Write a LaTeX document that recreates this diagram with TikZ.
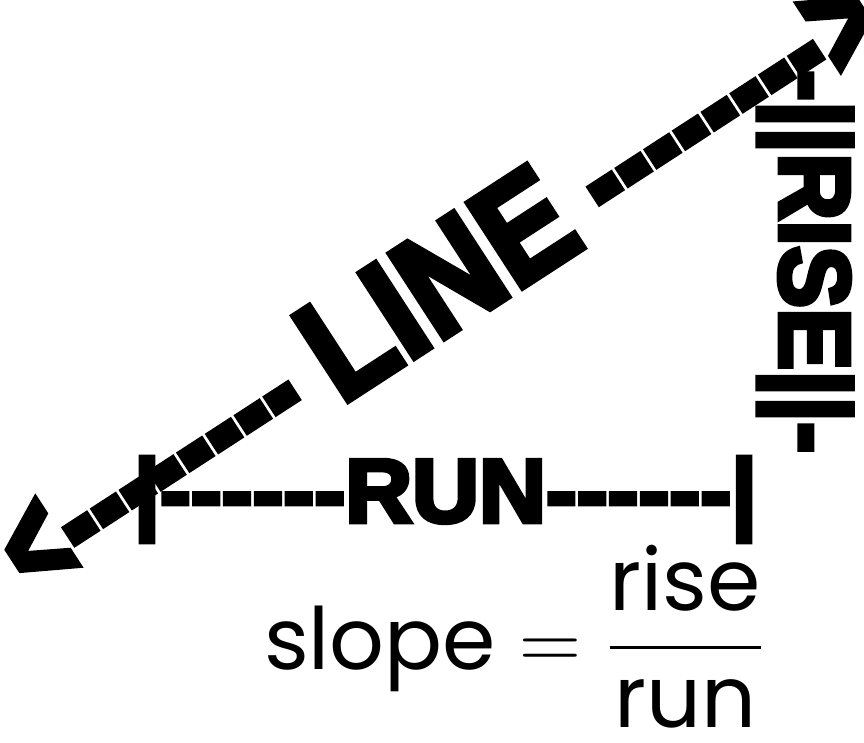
\documentclass[tikz,border=0pt]{standalone}
\usepackage{amsmath}
\usepackage{fontspec}
\setmainfont{Liberation Sans}
\newfontfamily\blockfont{Liberation Sans}[Ligatures=TeXOff, BoldFeatures={FakeBold=5}]
\newfontfamily\handfont{Poppins}[Ligatures=TeXOff]
\usetikzlibrary{positioning}
\tikzset{
  blocktxt/.style={inner sep=0pt, outer sep=0pt, text=black, font=\blockfont\bfseries},
  formula/.style={inner sep=0pt, outer sep=0pt, text=black, font=\handfont\fontsize{24.88}{24.88}\selectfont},
}
\newcommand{\narrow}[2]{\scalebox{#1}[1]{#2}}

\begin{document}
\begin{tikzpicture}[x=1pt,y=-1pt]
    \useasboundingbox (0,0) rectangle (864,742);
    % ---------------- run ----------------
    \node[blocktxt, anchor=base west] (run) at (134,522) {\fontsize{90}{90}\selectfont\narrow{1.03}{|------RUN------|}};
    % ---------------- line ----------------
    \node[blocktxt, rotate=33] (line) at (437,283) {\fontsize{145}{145}\selectfont\narrow{0.71}{<-------- }\narrow{0.89}{LINE}\narrow{0.71}{ -------->}};
    % ---------------- rise ----------------
    \node[blocktxt, rotate=-90, anchor=base west] (rise) at (780,70) {\fontsize{100}{100}\selectfont\narrow{0.93}{-||RISE||-}};
    % ---------------- formula ----------------
    \node[formula, anchor=base west] (slope) at (264,669) {\scalebox{3.45}{$\text{slope} = \dfrac{\text{rise}}{\text{run}}$}};
\end{tikzpicture}
\end{document}
